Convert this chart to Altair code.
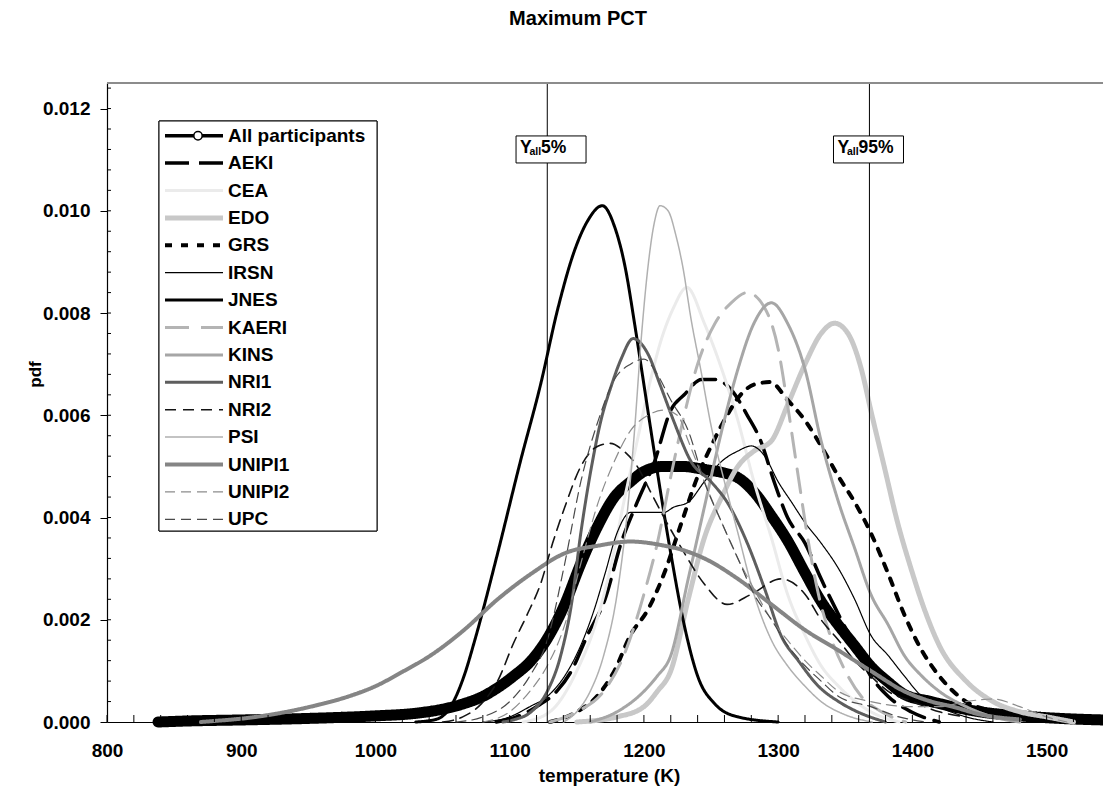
import altair as alt
import pandas as pd

# ---------------- data ----------------
PARTICIPANTS = ["All participants", "AEKI", "CEA", "EDO", "GRS", "IRSN", "JNES",
                "KAERI", "KINS", "NRI1", "NRI2", "PSI", "UNIPI1", "UNIPI2", "UPC"]

ALL_T = [838, 860, 900, 950, 1000, 1030, 1050, 1066, 1080, 1091, 1103, 1116, 1128, 1141, 1153,
         1165, 1178, 1190, 1200, 1215, 1228, 1245, 1260, 1270, 1282, 1295, 1307, 1320, 1332,
         1345, 1357, 1369, 1382, 1394, 1414, 1430, 1450, 1480, 1510, 1542]
ALL_PDF = [0.0, 0.00002, 0.00004, 0.00007, 0.00012, 0.00017, 0.00025, 0.00036, 0.0005, 0.00067,
           0.0009, 0.0012, 0.00163, 0.0023, 0.0031, 0.0038, 0.0044, 0.0047, 0.0049, 0.0050,
           0.0050, 0.00494, 0.00487, 0.00478, 0.0045, 0.00403, 0.00355, 0.00292, 0.00236,
           0.00189, 0.00149, 0.00109, 0.00078, 0.00054, 0.0004, 0.0003, 0.0002, 0.00012,
           0.00007, 0.00004]

AEKI_T = [1090, 1105, 1120, 1135, 1146, 1158, 1171, 1183, 1195, 1208, 1220, 1230, 1243, 1253,
          1265, 1277, 1287, 1297, 1307, 1320, 1332, 1345, 1357, 1369, 1382, 1399, 1420]
AEKI_PDF = [0.0, 0.0001, 0.0003, 0.0006, 0.001, 0.0017, 0.0024, 0.0035, 0.0043, 0.0051, 0.0061,
            0.0064, 0.0067, 0.0067, 0.0065, 0.006, 0.0055, 0.0047, 0.004, 0.0035, 0.0028,
            0.0021, 0.0015, 0.0009, 0.0005, 0.0002, 0.0]

CEA_T = [1110, 1130, 1150, 1165, 1175, 1185, 1195, 1205, 1212, 1222, 1232, 1245, 1258, 1270,
         1282, 1295, 1307, 1320, 1332, 1345, 1369, 1390]
CEA_PDF = [0.0, 0.0002, 0.001, 0.002, 0.003, 0.0043, 0.0055, 0.0067, 0.0074, 0.0081, 0.0085,
           0.0078, 0.0069, 0.0059, 0.0047, 0.0036, 0.0025, 0.0017, 0.0011, 0.0007, 0.0002, 0.0]

EDO_T = [1150, 1180, 1200, 1210, 1220, 1233, 1245, 1258, 1270, 1282, 1295, 1307, 1320, 1332,
         1342, 1352, 1362, 1369, 1379, 1389, 1399, 1409, 1420, 1440, 1460, 1480, 1500, 1520]
EDO_PDF = [0.0, 0.0001, 0.0003, 0.0006, 0.001, 0.0024, 0.0036, 0.0044, 0.005, 0.0053, 0.0055,
           0.0062, 0.007, 0.0076, 0.0078, 0.0076, 0.0069, 0.0061, 0.005, 0.0039, 0.003, 0.0022,
           0.0015, 0.0008, 0.0004, 0.0002, 0.0001, 0.0]

GRS_T = [1130, 1150, 1165, 1178, 1190, 1203, 1215, 1228, 1240, 1252, 1262, 1272, 1282, 1294,
         1307, 1320, 1332, 1345, 1357, 1369, 1382, 1394, 1407, 1420, 1440, 1460, 1480]
GRS_PDF = [0.0, 0.0002, 0.0005, 0.001, 0.0017, 0.0022, 0.0029, 0.0039, 0.0048, 0.0055, 0.006,
           0.0064, 0.0066, 0.00665, 0.0063, 0.0059, 0.0054, 0.0048, 0.0043, 0.0037, 0.0029,
           0.0021, 0.0014, 0.0009, 0.0004, 0.0002, 0.0]

IRSN_T = [1080, 1100, 1115, 1128, 1141, 1153, 1163, 1171, 1180, 1190, 1203, 1215, 1222, 1233,
          1245, 1258, 1270, 1280, 1290, 1300, 1310, 1320, 1332, 1345, 1357, 1369, 1382, 1394,
          1407, 1420, 1440, 1460]
IRSN_PDF = [0.0, 0.0001, 0.0003, 0.0005, 0.0009, 0.0015, 0.0022, 0.0029, 0.0037, 0.0041, 0.0041,
            0.0041, 0.0042, 0.0043, 0.0047, 0.0051, 0.0053, 0.0054, 0.0052, 0.0047, 0.0043,
            0.0039, 0.0035, 0.003, 0.0024, 0.0017, 0.0013, 0.0009, 0.0005, 0.0003, 0.0001, 0.0]

JNES_T = [1030, 1045, 1056, 1066, 1074, 1091, 1108, 1123, 1136, 1148, 1158, 1169, 1178, 1186,
          1193, 1200, 1207, 1213, 1220, 1230, 1240, 1253, 1270, 1300]
JNES_PDF = [0.0, 0.00005, 0.0003, 0.0009, 0.0016, 0.0033, 0.0051, 0.0066, 0.0081, 0.0092,
            0.0098, 0.0101, 0.0097, 0.0089, 0.0078, 0.0066, 0.0054, 0.0044, 0.0033, 0.0019,
            0.0009, 0.00035, 0.0001, 0.0]

KAERI_T = [1130, 1150, 1170, 1185, 1200, 1210, 1220, 1230, 1240, 1253, 1265, 1277, 1290, 1300,
           1307, 1315, 1322, 1330, 1340, 1350, 1362, 1377, 1395]
KAERI_PDF = [0.0, 0.0002, 0.0006, 0.0013, 0.0025, 0.0035, 0.0048, 0.006, 0.007, 0.0078, 0.0082,
             0.0084, 0.0081, 0.0073, 0.0062, 0.0048, 0.0036, 0.0025, 0.0016, 0.001, 0.0005,
             0.0002, 0.0]

KINS_T = [1160, 1180, 1200, 1210, 1220, 1233, 1245, 1258, 1270, 1282, 1295, 1307, 1320, 1332,
          1345, 1357, 1369, 1382, 1394, 1407, 1420, 1440, 1460, 1480]
KINS_PDF = [0.0, 0.0002, 0.0006, 0.0009, 0.0013, 0.0028, 0.0042, 0.0057, 0.0069, 0.0078, 0.0082,
            0.0078, 0.0069, 0.0055, 0.0043, 0.0034, 0.0025, 0.0019, 0.0013, 0.0009, 0.0006,
            0.0003, 0.0001, 0.0]

NRI1_T = [1095, 1104, 1116, 1128, 1138, 1146, 1153, 1161, 1168, 1176, 1183, 1192, 1203, 1212,
          1222, 1235, 1250, 1262, 1277, 1290, 1302, 1315, 1330, 1345, 1359, 1380]
NRI1_PDF = [0.0, 0.00005, 0.0002, 0.0006, 0.0013, 0.0023, 0.0037, 0.005, 0.0059, 0.0066, 0.0071,
            0.0075, 0.0072, 0.0066, 0.0059, 0.0051, 0.0047, 0.0043, 0.0035, 0.0026, 0.0017,
            0.0012, 0.0007, 0.0004, 0.0002, 0.0]

NRI2_T = [1050, 1065, 1079, 1091, 1103, 1113, 1123, 1132, 1141, 1153, 1166, 1175, 1185, 1195,
          1205, 1215, 1228, 1245, 1262, 1280, 1302, 1320, 1332, 1345, 1357, 1369, 1382, 1400,
          1420, 1440]
NRI2_PDF = [0.0, 0.0001, 0.00036, 0.0008, 0.00155, 0.0021, 0.0027, 0.0035, 0.0042, 0.005, 0.0054,
            0.00545, 0.0053, 0.005, 0.0045, 0.004, 0.0034, 0.0027, 0.0023, 0.0025, 0.0028,
            0.0025, 0.002, 0.0016, 0.0012, 0.0009, 0.0006, 0.0004, 0.0002, 0.0001]

PSI_T = [1140, 1150, 1160, 1170, 1180, 1188, 1193, 1198, 1203, 1208, 1212, 1218, 1224, 1229,
         1235, 1243, 1250, 1260, 1270, 1282, 1295, 1307, 1320, 1332, 1350, 1370]
PSI_PDF = [0.0, 0.0002, 0.0006, 0.0013, 0.0025, 0.0042, 0.0057, 0.0075, 0.0089, 0.0098, 0.0101,
           0.0100, 0.0095, 0.0089, 0.0079, 0.0068, 0.0058, 0.0047, 0.0037, 0.0025, 0.0016,
           0.0011, 0.0007, 0.0004, 0.00014, 0.0]

UNIPI1_T = [870, 880, 905, 930, 955, 980, 1000, 1020, 1041, 1066, 1091, 1116, 1141, 1166, 1190,
            1215, 1228, 1245, 1270, 1295, 1320, 1345, 1369, 1394, 1414, 1430, 1450, 1480]
UNIPI1_PDF = [0.0, 0.00002, 0.00008, 0.00018, 0.00032, 0.0005, 0.0007, 0.00098, 0.0013, 0.0018,
              0.0024, 0.0029, 0.0033, 0.00345, 0.00353, 0.00345, 0.00337, 0.0032, 0.0028,
              0.0023, 0.0018, 0.0014, 0.001, 0.0006, 0.0004, 0.0003, 0.00015, 0.00005]

UNIPI2_T = [1080, 1100, 1115, 1128, 1141, 1153, 1166, 1178, 1190, 1203, 1215, 1225, 1233, 1245,
            1258, 1270, 1282, 1295, 1307, 1320, 1332, 1345, 1369, 1400, 1420, 1440, 1460, 1480,
            1500, 1515]
UNIPI2_PDF = [0.0, 0.0002, 0.0006, 0.0011, 0.0019, 0.0031, 0.0043, 0.0051, 0.0057, 0.006, 0.0061,
              0.006, 0.0055, 0.0047, 0.0039, 0.0032, 0.0026, 0.002, 0.0016, 0.0012, 0.0009,
              0.0006, 0.0004, 0.0003, 0.0003, 0.0004, 0.00045, 0.0003, 0.0001, 0.0]

UPC_T = [1060, 1080, 1100, 1115, 1128, 1141, 1153, 1166, 1178, 1190, 1200, 1210, 1220, 1233,
         1245, 1258, 1270, 1282, 1295, 1307, 1320, 1332, 1345, 1369, 1390, 1410]
UPC_PDF = [0.0, 0.0001, 0.0004, 0.0009, 0.0016, 0.0031, 0.0047, 0.0059, 0.0067, 0.007, 0.0071,
           0.0068, 0.0063, 0.0057, 0.0047, 0.0039, 0.0032, 0.0025, 0.002, 0.0015, 0.0011, 0.0008,
           0.0005, 0.0003, 0.0001, 0.0]

CURVES = {
    "All participants": (ALL_T, ALL_PDF), "AEKI": (AEKI_T, AEKI_PDF), "CEA": (CEA_T, CEA_PDF),
    "EDO": (EDO_T, EDO_PDF), "GRS": (GRS_T, GRS_PDF), "IRSN": (IRSN_T, IRSN_PDF),
    "JNES": (JNES_T, JNES_PDF), "KAERI": (KAERI_T, KAERI_PDF), "KINS": (KINS_T, KINS_PDF),
    "NRI1": (NRI1_T, NRI1_PDF), "NRI2": (NRI2_T, NRI2_PDF), "PSI": (PSI_T, PSI_PDF),
    "UNIPI1": (UNIPI1_T, UNIPI1_PDF), "UNIPI2": (UNIPI2_T, UNIPI2_PDF), "UPC": (UPC_T, UPC_PDF),
}

X_TICKS = [800, 900, 1000, 1100, 1200, 1300, 1400, 1500]
Y_TICKS = [0.0, 0.002, 0.004, 0.006, 0.008, 0.010, 0.012]

QUANTILE_T = [1128.0, 1368.0]
QUANTILE_NAMES = ["5%", "95%"]
LABEL_T = [1130.8, 1367.3]
LABEL_PDF = [0.0112, 0.0112]

TITLE = "Maximum PCT"

# ---------------- styles ----------------
COLORS = {"All participants": "#000000", "AEKI": "#000000", "CEA": "#ebebeb", "EDO": "#c8c8c8",
          "GRS": "#000000", "IRSN": "#000000", "JNES": "#000000", "KAERI": "#b4b4b4",
          "KINS": "#a6a6a6", "NRI1": "#5e5e5e", "NRI2": "#141414", "PSI": "#b0b0b0",
          "UNIPI1": "#858585", "UNIPI2": "#8c8c8c", "UPC": "#4a4a4a"}
WIDTHS = {"All participants": 11, "AEKI": 3.5, "CEA": 3, "EDO": 5, "GRS": 4, "IRSN": 1.2,
          "JNES": 3, "KAERI": 3, "KINS": 3, "NRI1": 3, "NRI2": 1.6, "PSI": 1.5, "UNIPI1": 4,
          "UNIPI2": 1.2, "UPC": 1.2}
LEGEND_WIDTHS = dict(WIDTHS, **{"All participants": 3.5})
DASHES = {"All participants": [1, 0], "AEKI": [24, 10], "CEA": [1, 0], "EDO": [1, 0],
          "GRS": [7, 9], "IRSN": [1, 0], "JNES": [1, 0], "KAERI": [24, 12], "KINS": [1, 0],
          "NRI1": [1, 0], "NRI2": [11, 7], "PSI": [1, 0], "UNIPI1": [1, 0], "UNIPI2": [10, 6],
          "UPC": [10, 6]}

FONT = "Liberation Sans"
W, H = 996, 639
X_MAX = 800 + W / 1.3423

rows = []
for name in PARTICIPANTS:
    ts, ps = CURVES[name]
    for t, p in zip(ts, ps):
        rows.append({"participant": name, "T": t, "pdf": p, "sw": WIDTHS[name]})
df = pd.DataFrame(rows)

legend_df = pd.DataFrame({"participant": PARTICIPANTS,
                          "row": list(range(len(PARTICIPANTS))),
                          "lw": [LEGEND_WIDTHS[n] for n in PARTICIPANTS]})

q_df = pd.DataFrame({"T": QUANTILE_T, "name": QUANTILE_NAMES})
lab_df = pd.DataFrame({"T": LABEL_T, "pdf": LABEL_PDF, "name": QUANTILE_NAMES})
title_df = pd.DataFrame({"title": [TITLE]})
xminor_df = pd.DataFrame({"v": list(range(800, int(X_MAX) + 1, 20))})
yminor_df = pd.DataFrame({"v": [round(i * 0.0004, 4) for i in range(1, 32)]})

x_scale = alt.Scale(domain=[800, X_MAX], nice=False, zero=False)
y_scale = alt.Scale(domain=[0, 0.0125], nice=False, zero=False)
color_scale = alt.Scale(domain=PARTICIPANTS, range=[COLORS[n] for n in PARTICIPANTS])
dash_scale = alt.Scale(domain=PARTICIPANTS, range=[DASHES[n] for n in PARTICIPANTS])

x_axis = alt.Axis(values=X_TICKS, format="d", ticks=False, tickSize=0, grid=False,
                  labelPadding=34, labelBaseline="alphabetic", labelFontSize=19,
                  labelFontWeight="bold", labelFont=FONT, labelColor="black",
                  labelFlush=False, labelOverlap=False,
                  domainColor="black", domainWidth=1.2,
                  title="temperature (K)", titleFontSize=19, titleFontWeight="bold",
                  titleFont=FONT, titleColor="black", titleY=59, titleX=502,
                  titleBaseline="alphabetic", titleAlign="center")
y_axis = alt.Axis(values=Y_TICKS, format=".3f", tickSize=7, tickColor="black", grid=False,
                  labelPadding=10, labelFontSize=19, labelFontWeight="bold", labelFont=FONT,
                  labelColor="black", labelFlush=False, labelOverlap=False,
                  domainColor="black", domainWidth=1.2,
                  title="pdf", titleFontSize=17, titleFontWeight="bold", titleFont=FONT,
                  titleColor="black", titleX=-72, titleY=291, titleAngle=270,
                  titleBaseline="middle", titleAlign="center")


def X(f="T:Q"):
    return alt.X(f, scale=x_scale, axis=x_axis)


def Y(f="pdf:Q"):
    return alt.Y(f, scale=y_scale, axis=y_axis)


def line_layer(data):
    return alt.Chart(data).mark_line(interpolate="monotone", strokeCap="round",
                                     strokeJoin="round").encode(
        x=X(), y=Y(),
        color=alt.Color("participant:N", scale=color_scale, legend=None),
        strokeDash=alt.StrokeDash("participant:N", scale=dash_scale, legend=None),
        strokeWidth=alt.StrokeWidth("sw:Q", scale=None),
    )


all_line = line_layer(df[df.participant == "All participants"])
other_lines = line_layer(df[df.participant != "All participants"])

vlines = alt.Chart(q_df).mark_rule(color="black", strokeWidth=1).encode(
    x=X(), y=alt.value(0), y2=alt.value(H))

BOX = "M-1,-0.386H1V0.386H-1Z"
boxes = alt.Chart(lab_df).mark_point(shape=BOX, size=4900, filled=True, fill="white",
                                     stroke="black", strokeWidth=1, opacity=1).encode(
    x=X(), y=Y())
txt_y = alt.Chart(lab_df).mark_text(align="left", baseline="alphabetic", dx=-31, dy=3.5,
                                    fontSize=17.5, fontWeight="bold", font=FONT,
                                    color="black").encode(x=X(), y=Y(), text=alt.value("Y"))
txt_all = alt.Chart(lab_df).mark_text(align="left", baseline="alphabetic", dx=-21.5, dy=6,
                                      fontSize=10.5, fontWeight="bold", font=FONT,
                                      color="black").encode(x=X(), y=Y(), text=alt.value("all"))
txt_num = alt.Chart(lab_df).mark_text(align="left", baseline="alphabetic", dx=-10, dy=3.5,
                                      fontSize=17.5, fontWeight="bold", font=FONT,
                                      color="black").encode(x=X(), y=Y(), text="name:N")

xminor = alt.Chart(xminor_df).mark_rule(color="black", strokeWidth=1).encode(
    x=X("v:Q"), y=alt.value(H), y2=alt.value(H - 7))
yminor = alt.Chart(yminor_df).mark_rule(color="black", strokeWidth=1).encode(
    y=Y("v:Q"), x=alt.value(0), x2=alt.value(4))
top_border = alt.Chart(q_df).mark_rule(color="#8c8c8c", strokeWidth=2).encode(
    x=alt.value(0), x2=alt.value(W), y=alt.value(0))
title_mark = alt.Chart(title_df).mark_text(align="center", baseline="alphabetic", fontSize=20,
                                           fontWeight="bold", font=FONT, color="black").encode(
    x=alt.value(W / 2 - 27), y=alt.value(-58), text="title:N")

main = alt.layer(all_line, other_lines, vlines, boxes, txt_y, txt_all, txt_num,
                 xminor, yminor, top_border, title_mark)

# ---------------- legend (inside the plot) ----------------
leg_y = alt.Y("row:Q", scale=alt.Scale(domain=[0, 14], range=[52.7, 52.7 + 27.4 * 14]),
              axis=None)
leg_box = alt.Chart(q_df).mark_rect(fill="white", stroke="black", strokeWidth=1).encode(
    x=alt.value(52), x2=alt.value(270), y=alt.value(38), y2=alt.value(448))
leg_lines = alt.Chart(legend_df).mark_rule().encode(
    x=alt.value(58), x2=alt.value(116), y=leg_y,
    color=alt.Color("participant:N", scale=color_scale, legend=None),
    strokeDash=alt.StrokeDash("participant:N", scale=dash_scale, legend=None),
    strokeWidth=alt.StrokeWidth("lw:Q", scale=None))
leg_circle = alt.Chart(legend_df).transform_filter("datum.row == 0").mark_point(
    shape="circle", filled=True, fill="white", stroke="black", strokeWidth=1.5, size=70,
    opacity=1).encode(x=alt.value(91), y=leg_y)
leg_text = alt.Chart(legend_df).mark_text(align="left", baseline="middle", fontSize=19,
                                          fontWeight="bold", font=FONT, color="black").encode(
    x=alt.value(121), y=leg_y, text="participant:N")
legend = alt.layer(leg_box, leg_lines, leg_circle, leg_text)

chart = alt.layer(main, legend).resolve_scale(y="independent").properties(
    width=W, height=H,
    padding={"left": 99, "top": 75, "right": 0, "bottom": 64},
    autosize=alt.AutoSizeParams(type="none"),
).configure_view(stroke=None).configure(background="white")

chart.save("out.html", embed_options={"renderer": "svg", "actions": False})
